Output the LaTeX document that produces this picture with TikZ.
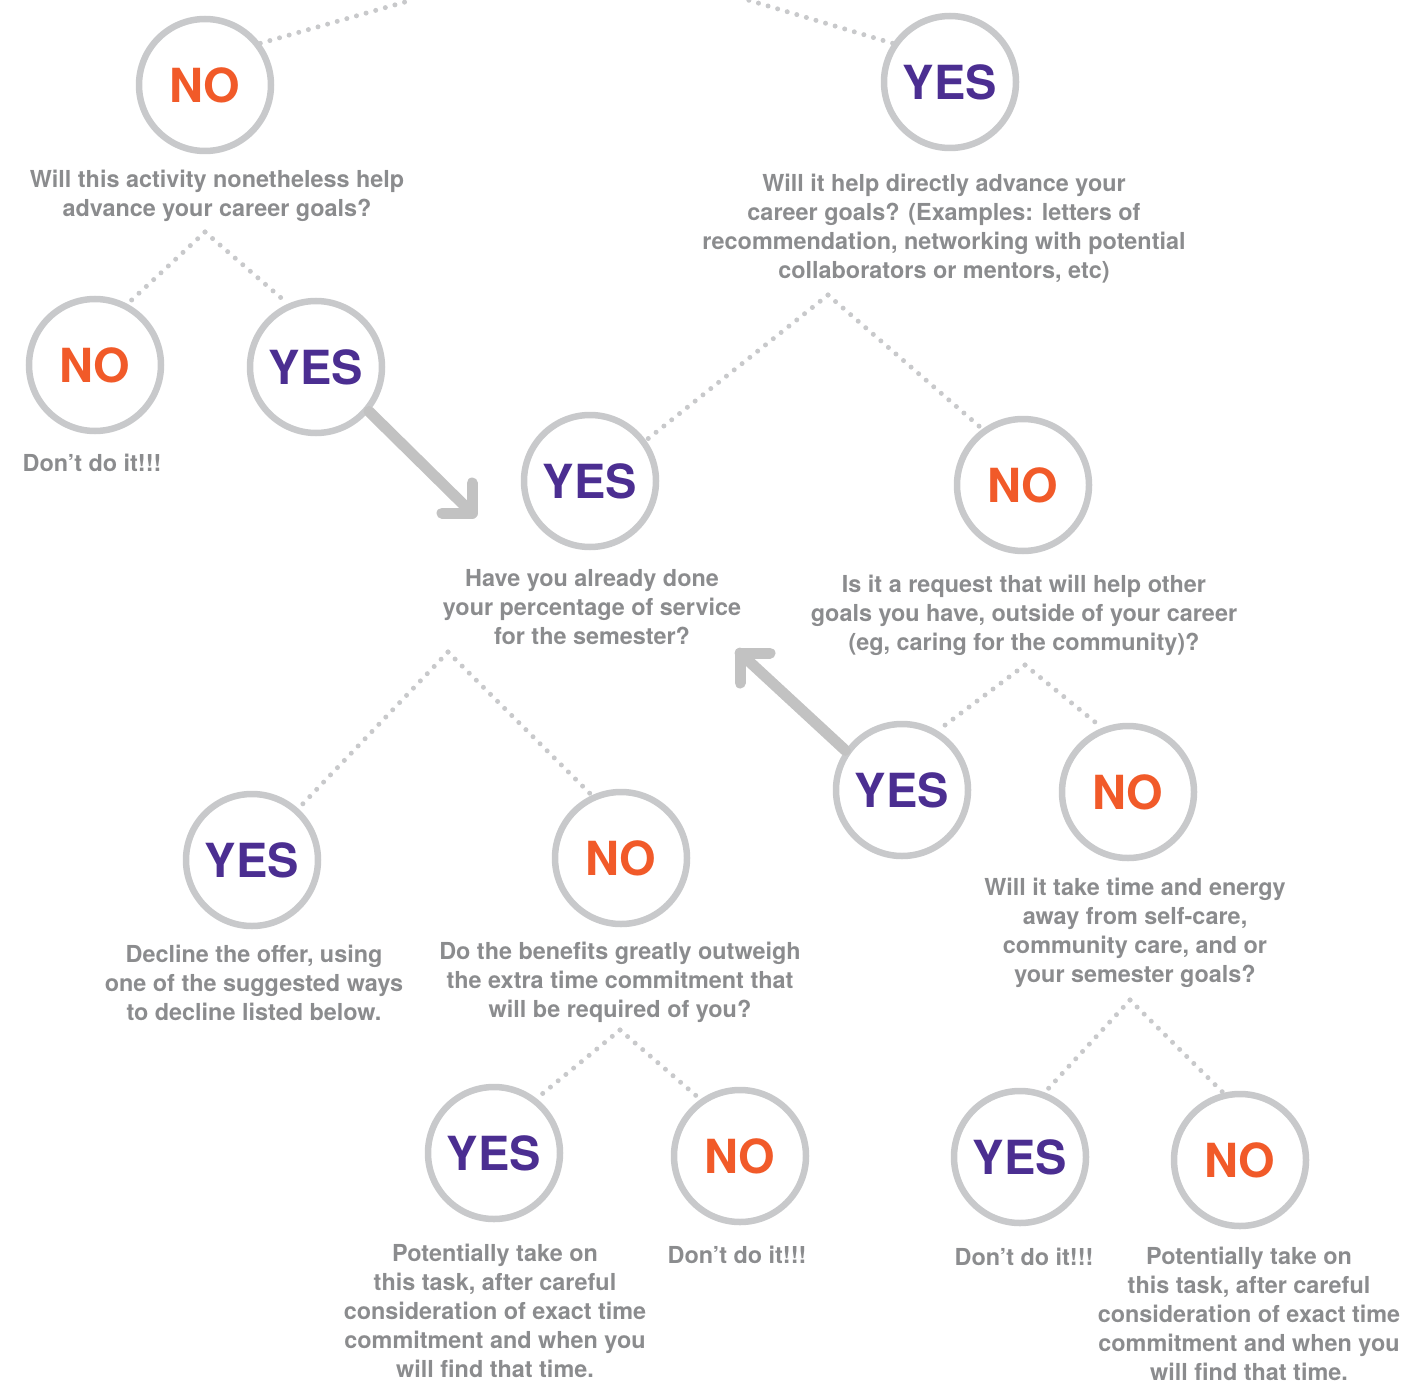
\documentclass[tikz,border=0pt]{standalone}
\usepackage{fontspec}
\setmainfont{TeX Gyre Heros}
\usetikzlibrary{calc}
\definecolor{ring}{HTML}{C8C9CB}
\definecolor{noc}{HTML}{F15A29}
\definecolor{yesc}{HTML}{4B2E91}
\definecolor{txt}{HTML}{8B8C8E}
\definecolor{arr}{HTML}{C2C2C2}
\definecolor{dotc}{HTML}{C8C9CB}
\begin{document}
\begin{tikzpicture}[x=1pt,y=-1pt,
 ans/.style={circle,draw=ring,line width=6.5pt,minimum size=132pt,inner sep=0pt,font=\fontsize{47}{47}\selectfont\bfseries},
 nocirc/.style={ans,text=noc},
 yescirc/.style={ans,text=yesc},
 lbl/.style={align=center,text=txt,inner sep=0pt,font=\fontsize{23.4}{29}\selectfont\bfseries},
 dots/.style={draw=dotc,line width=5pt,line cap=round,dash pattern=on 0pt off 10pt},
 bigarrow/.style={draw=arr,line width=11pt,line cap=round,line join=round}]
\useasboundingbox (0,0) rectangle (1408,1383);

% circles
\node[nocirc]  (no1)  at (205,85)   {NO};
\node[yescirc] (yes1) at (950,82)   {YES};
\node[nocirc]  (no2)  at (95,365)   {NO};
\node[yescirc] (yes2) at (316,367)  {YES};
\node[yescirc] (yes3) at (590,481)  {YES};
\node[nocirc]  (no3)  at (1023,485) {NO};
\node[yescirc] (yes4) at (902,790)  {YES};
\node[nocirc]  (no4)  at (1128,792) {NO};
\node[yescirc] (yes5) at (252,860)  {YES};
\node[nocirc]  (no5)  at (621,858)  {NO};
\node[yescirc] (yes6) at (494,1153) {YES};
\node[nocirc]  (no6)  at (740,1156) {NO};
\node[yescirc] (yes7) at (1020,1157) {YES};
\node[nocirc]  (no7)  at (1240,1160) {NO};

% labels
\node[lbl] (t1) at (217,196) {Will this activity nonetheless help\\advance your career goals?};
\node[lbl] (t2) at (944,228.5) {Will it help directly advance your\\career goals? (Examples: letters of\\recommendation, networking with potential\\collaborators or mentors, etc)};
\node[lbl] (t3) at (92,462.5) {Don’t do it!!!};
\node[lbl] (t4) at (592,607.5) {Have you already done\\your percentage of service\\for the semester?};
\node[lbl] (t5) at (1024,615.5) {Is it a request that will help other\\goals you have, outside of your career\\(eg, caring for the community)?};
\node[lbl] (t6) at (1135,933) {Will it take time and energy\\away from self-care,\\community care, and or\\your semester goals?};
\node[lbl] (t7) at (254,983) {Decline the offer, using\\one of the suggested ways\\to decline listed below.};
\node[lbl] (t8) at (620,982) {Do the benefits greatly outweigh\\the extra time commitment that\\will be required of you?};
\node[lbl] (t9) at (495,1311) {Potentially take on\\this task, after careful\\consideration of exact time\\commitment and when you\\will find that time.};
\node[lbl] (t10) at (737,1254.5) {Don’t do it!!!};
\node[lbl] (t11) at (1024,1256.5) {Don’t do it!!!};
\node[lbl] (t12) at (1249,1314) {Potentially take on\\this task, after careful\\consideration of exact time\\commitment and when you\\will find that time.};

% branch points
\coordinate (up1) at (412,0);
\coordinate (up2) at (748,0);
\coordinate (s1) at (205,232);
\coordinate (s2) at (828,295);
\coordinate (s3) at (448,652);
\coordinate (s4) at (1025,665);
\coordinate (s5) at (620,1030);
\coordinate (s6) at (1130,1000);

\draw[dots] (no1.37) -- (up1);
\draw[dots] (yes1.146) -- (up2);
\draw[dots] (s1) -- (no2.62);
\draw[dots] (s1) -- (yes2.114);
\draw[dots] (s2) -- (yes3.36);
\draw[dots] (s2) -- (no3.126);
\draw[dots] (s3) -- (yes5.48);
\draw[dots] (s3) -- (no5.115);
\draw[dots] (s4) -- (yes4.59);
\draw[dots] (s4) -- (no4.112);
\draw[dots] (s5) -- (yes6.52);
\draw[dots] (s5) -- (no6.125);
\draw[dots] (s6) -- (yes7.69);
\draw[dots] (s6) -- (no7.104);

% big arrows
\coordinate (tipA) at (472,513);
\coordinate (tipB) at (740,653);
\draw[bigarrow] (yes2.-40) -- (tipA);
\draw[bigarrow] ($(tipA)+(0,-30)$) -- (tipA) -- ($(tipA)+(-30,0)$);
\draw[bigarrow] (yes4.145) -- (tipB);
\draw[bigarrow] ($(tipB)+(30,0)$) -- (tipB) -- ($(tipB)+(0,30)$);
\end{tikzpicture}
\end{document}
